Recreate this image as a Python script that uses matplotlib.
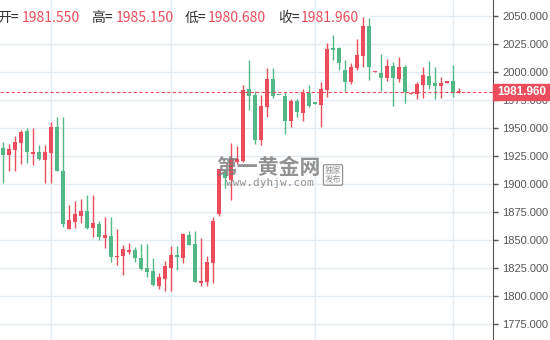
import numpy as np
import matplotlib.pyplot as plt
from matplotlib.patches import Rectangle

# K线数据 (开, 高, 低, 收), 从左到右
opens = [1932.0, 1926.1, 1930.5, 1936.8, 1947.2, 1927.0, 1928.4, 1921.3, 1927.8, 1950.7,
         1911.5, 1860.1, 1866.0, 1871.7, 1875.8, 1861.0, 1864.2, 1852.0, 1853.5, 1835.1,
         1836.0, 1839.6, 1841.0, 1833.9, 1825.0, 1822.3, 1809.2, 1815.5, 1825.3, 1836.6,
         1834.2, 1854.1, 1846.4, 1811.9, 1812.8, 1829.7, 1873.1, 1909.5, 1903.4, 1919.2,
         1920.5, 1984.6, 1979.2, 1939.1, 1968.8, 1993.5, 1979.7, 1978.6, 1956.4, 1973.9,
         1963.5, 1981.3, 1973.1, 1970.4, 1983.7, 2020.9, 2020.9, 2001.6, 1991.2, 2003.1,
         2014.4, 2040.8, 1999.8, 1999.2, 1994.7, 2005.1, 1993.5, 2004.2, 1980.2, 1980.2,
         1988.2, 1996.2, 1990.3, 1987.3, 1989.7, 1992.1, 1981.55]
highs = [1937.4, 1935.3, 1942.7, 1948.1, 1949.8, 1949.8, 1934.7, 1934.7, 1955.2, 1959.9,
         1959.9, 1881.2, 1884.8, 1886.5, 1890.1, 1890.1, 1866.9, 1870.5, 1870.5, 1859.8,
         1845.2, 1847.3, 1843.7, 1846.4, 1846.4, 1833.9, 1820.2, 1831.2, 1844.6, 1844.6,
         1856.5, 1858.0, 1858.0, 1851.8, 1835.7, 1870.5, 1913.5, 1912.4, 1936.7, 1933.5,
         1988.2, 2010.5, 1983.0, 1979.2, 2003.0, 2003.0, 1979.7, 1982.2, 1975.8, 1975.4,
         1984.3, 1988.2, 1973.1, 1990.7, 2025.9, 2032.8, 2022.4, 2010.5, 2008.1, 2028.9,
         2049.1, 2047.6, 2000.7, 2015.8, 2011.0, 2009.0, 2012.9, 2006.0, 1981.0, 1991.2,
         2003.9, 2009.6, 2004.5, 1995.6, 1991.8, 2006.0, 1985.15]
lows = [1901.1, 1911.5, 1911.8, 1918.0, 1918.6, 1917.1, 1921.3, 1901.1, 1901.1, 1911.8,
        1861.9, 1859.8, 1860.7, 1865.4, 1859.5, 1852.9, 1850.3, 1843.1, 1830.6, 1828.0,
        1818.8, 1837.8, 1830.6, 1823.2, 1817.3, 1808.9, 1806.0, 1804.8, 1804.8, 1823.5,
        1829.8, 1845.5, 1812.8, 1809.2, 1809.2, 1811.9, 1871.3, 1896.0, 1885.6, 1917.8,
        1919.8, 1965.9, 1935.5, 1934.6, 1959.9, 1976.3, 1978.9, 1944.8, 1950.3, 1959.4,
        1956.0, 1968.5, 1970.9, 1950.4, 1977.8, 2010.5, 2001.6, 1982.2, 1989.1, 2001.6,
        2004.5, 1992.6, 1999.8, 1983.1, 1991.5, 1969.5, 1991.2, 1972.4, 1980.2, 1975.4,
        1976.3, 1984.3, 1975.4, 1976.3, 1989.7, 1977.2, 1980.68]
closes = [1926.1, 1931.1, 1937.4, 1946.0, 1928.7, 1928.7, 1922.2, 1928.7, 1950.7, 1911.8,
          1864.5, 1867.8, 1873.4, 1875.8, 1860.7, 1865.1, 1852.9, 1854.4, 1835.1, 1836.0,
          1841.9, 1841.3, 1834.2, 1824.1, 1821.7, 1809.8, 1817.0, 1826.8, 1836.6, 1834.8,
          1855.6, 1845.8, 1812.8, 1813.4, 1830.3, 1866.9, 1913.3, 1905.0, 1921.9, 1922.5,
          1983.7, 1978.7, 1939.1, 1969.4, 1993.5, 1978.7, 1978.9, 1956.4, 1974.2, 1964.4,
          1981.3, 1969.5, 1970.9, 1984.3, 2020.3, 2019.4, 2007.5, 1991.2, 2004.2, 2014.9,
          2040.8, 2004.5, 2000.7, 1994.7, 2005.1, 1994.7, 2004.2, 1982.2, 1981.0, 1989.1,
          1997.1, 1988.2, 1987.3, 1990.3, 1991.8, 1981.3, 1981.96]

price_ticks = [1775, 1800, 1825, 1850, 1875, 1900, 1925, 1950, 1975, 2000, 2025, 2050]
last_price = closes[-1]

RED = '#eb4d5c'
GREEN = '#52b986'
GRID = '#e3ebf2'

fig = plt.figure(figsize=(5.5, 3.4), dpi=100)
ax = fig.add_axes([0, 0, 493 / 550, 1])
ax.set_xlim(-0.55, 81.6)
ax.set_ylim(1760.7, 2064.0)

# 网格
for p in price_ticks:
    start = 0.75 if p == 2050 else 0
    ax.axhline(p, xmin=start, color=GRID, lw=1, zorder=0)
for k in [8, 28, 52, 75]:
    ax.axvline(k, color=GRID, lw=1, zorder=0)

x = np.arange(len(opens))
o = np.array(opens)
c = np.array(closes)
cols = [RED if cc >= oo else GREEN for oo, cc in zip(o, c)]

ax.vlines(x, lows, highs, color=cols, lw=1, zorder=2)
ax.bar(x, np.maximum(np.abs(c - o), 0.9), bottom=np.minimum(o, c), width=0.7,
       color=cols, zorder=3, linewidth=0)

ax.axhline(last_price, color=RED, lw=0.8, ls=(0, (3, 2)), zorder=4)

for s in ['top', 'left', 'bottom']:
    ax.spines[s].set_visible(False)
ax.spines['right'].set_color('#555555')
ax.set_xticks([])
ax.yaxis.tick_right()
ax.set_yticks(price_ticks)
ax.set_yticklabels(['%.3f' % p for p in price_ticks], family='Liberation Sans')
ax.tick_params(axis='y', length=3.5, width=1, color='#555555', labelsize=8,
               labelcolor='#555555', pad=3)

# 最新价标签
fig.add_artist(Rectangle((493 / 550, (340 - 99.5) / 340), 57 / 550, 15.5 / 340,
                         transform=fig.transFigure, color=RED, zorder=5))
fig.text(522 / 550, 1 - 91.7 / 340, '%.3f' % last_price, color='white', weight='bold',
         ha='center', va='center', fontsize=8.5, family='Liberation Sans', zorder=6)

# 顶部 OHLC
cjk = ['Noto Sans CJK SC', 'DejaVu Sans']
header = [('开=', -3, '%.3f' % opens[-1], 22),
          ('高=', 91, '%.3f' % highs[-1], 116),
          ('低=', 185, '%.3f' % lows[-1], 208),
          ('收=', 278, '%.3f' % closes[-1], 301)]
for lab, lx, val, vx in header:
    fig.text(lx / 550, 1 - 18 / 340, lab, color='#333333', fontsize=10, family=cjk,
             ha='left', va='center')
    fig.text(vx / 550, 1 - 18 / 340, val, color=RED, fontsize=10, family=cjk,
             ha='left', va='center')

# 水印
fig.text(268 / 550, 1 - 167 / 340, '第一黄金网', fontsize=15, weight='bold', color='#777777',
         alpha=0.8, ha='center', va='center', family=cjk, zorder=7)
fig.text(270 / 550, 1 - 183 / 340, 'www.dyhjw.com', fontsize=8, color='#777777', alpha=0.8,
         ha='center', va='center', family='DejaVu Sans Mono', zorder=7)
fig.text(333 / 550, 1 - 175 / 340, '独家\n发布', fontsize=6, color='#777777', alpha=0.8,
         ha='center', va='center', family=cjk, linespacing=1.0, zorder=7,
         bbox=dict(boxstyle='round,pad=0.15', fc='none', ec='#888888', lw=0.8))

fig.savefig('out.png', dpi=100)
